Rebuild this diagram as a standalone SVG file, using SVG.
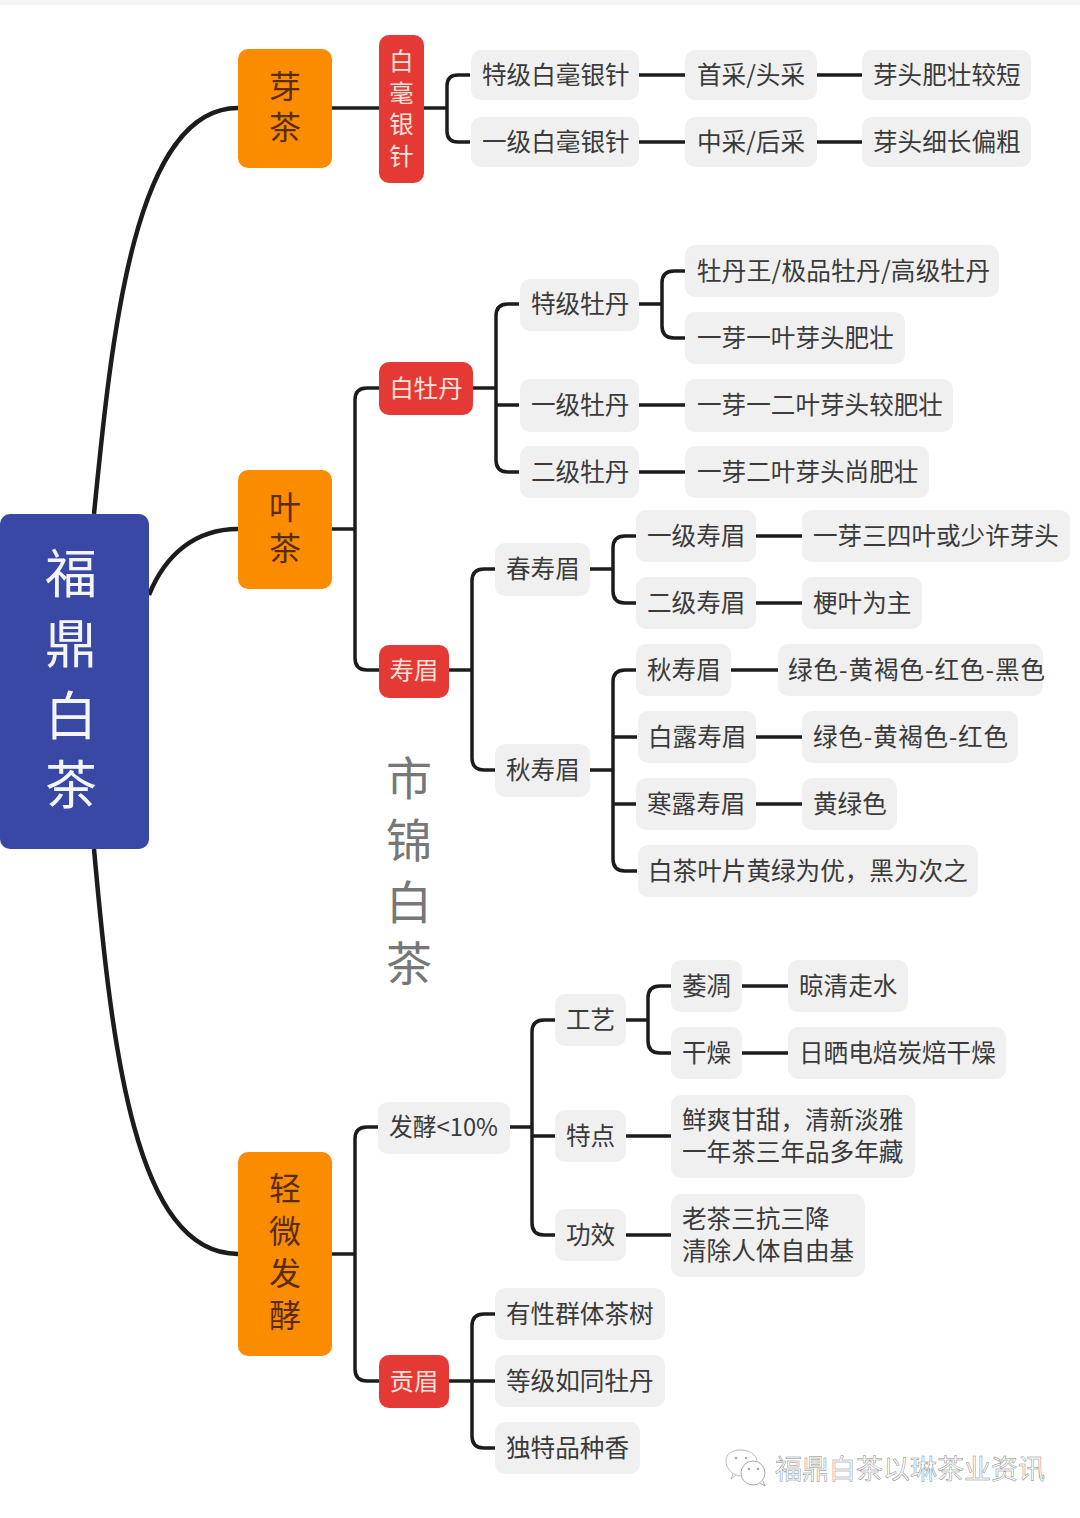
<svg xmlns="http://www.w3.org/2000/svg" width="1080" height="1518" viewBox="0 0 1080 1518">
<style>
text{font-family:"Noto Sans CJK SC","Noto Sans",sans-serif}
.g rect{fill:#f0f0f0}
.g text{font-size:24.6px;fill:#3a3a3a}
.o rect{fill:#fb8c00}
.o text{font-size:32px;fill:#5a2c00;text-anchor:middle}
.r rect{fill:#e53935}
.r text{font-size:24.4px;fill:#fde3dc;text-anchor:middle}
.c path{fill:none;stroke:#1c1c1c;stroke-width:3.500}
.c .m{stroke-width:4.500}
</style>
<rect x="0" y="0" width="1080" height="5" fill="#f6f6f6"/>
<g class="c" id="connectors">
<path class="m" d="M94,514C112,330 135,108 238,108"/>
<path class="m" d="M149,595C165,555 195,529 238,529"/>
<path class="m" d="M94,849C112,1050 135,1254 238,1254"/>
<path d="M332,108H379M424,108H447M470,75H458Q447,75 447,86V131Q447,142 458,142H470"/>
<path d="M639,75H685M817,75H862M639,142H685M817,142H862"/>
<path d="M332,529H355M379,388H367Q355,388 355,400V658Q355,670 367,670H379"/>
<path d="M473,388H496M519,304H508Q496,304 496,316V460Q496,472 508,472H519M496,405H519"/>
<path d="M639,304H662M685,271H674Q662,271 662,283V326Q662,338 674,338H685"/>
<path d="M639,405H685M639,472H685"/>
<path d="M449,670H472M495,569H484Q472,569 472,581V758Q472,770 484,770H495"/>
<path d="M590,569H613M636,536H625Q613,536 613,548V591Q613,603 625,603H636"/>
<path d="M756,536H802M756,603H802"/>
<path d="M590,770H613M636,670H625Q613,670 613,682V859Q613,871 625,871H637M613,737H637M613,804H636"/>
<path d="M731,670H778M756,737H802M756,804H802"/>
<path d="M332,1254H355M378,1127H367Q355,1127 355,1139V1369Q355,1381 367,1381H379"/>
<path d="M510,1127H532M555,1020H544Q532,1020 532,1032V1223Q532,1235 544,1235H555M532,1136H555"/>
<path d="M626,1020H648M671,986H660Q648,986 648,998V1041Q648,1053 660,1053H671"/>
<path d="M742,986H788M742,1053H788M626,1136H671M626,1235H671"/>
<path d="M449,1381H472M495,1314H484Q472,1314 472,1326V1436Q472,1448 484,1448H495M472,1381H495"/>
</g>
<g id="root"><rect x="0" y="514" width="149" height="335" rx="10" fill="#3848a4"/><text font-size="52" fill="#f4f5fb" text-anchor="middle"><tspan x="71" y="593">福</tspan><tspan x="71" y="663">鼎</tspan><tspan x="71" y="735">白</tspan><tspan x="71" y="804">茶</tspan></text></g>
<g id="n-yacha" class="o"><rect x="238" y="49" width="94" height="119" rx="10"/><text><tspan x="285" y="98">芽</tspan><tspan x="285" y="139">茶</tspan></text></g>
<g id="n-yecha" class="o"><rect x="238" y="470" width="94" height="119" rx="10"/><text><tspan x="285" y="519">叶</tspan><tspan x="285" y="560">茶</tspan></text></g>
<g id="n-qingwei" class="o"><rect x="238" y="1152" width="94" height="204" rx="10"/><text><tspan x="285" y="1200">轻</tspan><tspan x="285" y="1243">微</tspan><tspan x="285" y="1285">发</tspan><tspan x="285" y="1327">酵</tspan></text></g>
<g id="n-baihao" class="r"><rect x="379" y="35" width="45" height="148" rx="10"/><text><tspan x="401.500" y="70">白</tspan><tspan x="401.500" y="102">毫</tspan><tspan x="401.500" y="133">银</tspan><tspan x="401.500" y="165">针</tspan></text></g>
<g id="n-baimudan" class="r"><rect x="379" y="362" width="94" height="53" rx="10"/><text x="426" y="397">白牡丹</text></g>
<g id="n-shoumei" class="r"><rect x="379" y="645" width="70" height="53" rx="10"/><text x="414" y="679">寿眉</text></g>
<g id="n-gongmei" class="r"><rect x="379" y="1355" width="70" height="53" rx="10"/><text x="414" y="1390">贡眉</text></g>
<g id="n1" class="g"><rect x="471" y="50" width="168" height="50" rx="10"/><text x="482" y="84">特级白毫银针</text></g>
<g id="n2" class="g"><rect x="685" y="50" width="132" height="50" rx="10"/><text x="697" y="84">首采/头采</text></g>
<g id="n3" class="g"><rect x="862" y="50" width="169" height="50" rx="10"/><text x="873" y="84">芽头肥壮较短</text></g>
<g id="n4" class="g"><rect x="471" y="117" width="168" height="50" rx="10"/><text x="482" y="151">一级白毫银针</text></g>
<g id="n5" class="g"><rect x="685" y="117" width="132" height="50" rx="10"/><text x="697" y="151">中采/后采</text></g>
<g id="n6" class="g"><rect x="862" y="117" width="169" height="50" rx="10"/><text x="873" y="151">芽头细长偏粗</text></g>
<g id="n7" class="g"><rect x="520" y="279" width="119" height="52" rx="10"/><text x="531" y="313">特级牡丹</text></g>
<g id="n8" class="g"><rect x="685" y="245" width="314" height="52" rx="10"/><text x="697" y="280" textLength="293" lengthAdjust="spacing">牡丹王/极品牡丹/高级牡丹</text></g>
<g id="n9" class="g"><rect x="685" y="312" width="220" height="52" rx="10"/><text x="697" y="347">一芽一叶芽头肥壮</text></g>
<g id="n10" class="g"><rect x="520" y="379" width="119" height="53" rx="10"/><text x="531" y="414">一级牡丹</text></g>
<g id="n11" class="g"><rect x="685" y="379" width="268" height="53" rx="10"/><text x="697" y="414">一芽一二叶芽头较肥壮</text></g>
<g id="n12" class="g"><rect x="520" y="446" width="119" height="52" rx="10"/><text x="531" y="481">二级牡丹</text></g>
<g id="n13" class="g"><rect x="685" y="446" width="244" height="52" rx="10"/><text x="697" y="481">一芽二叶芽头尚肥壮</text></g>
<g id="n14" class="g"><rect x="495" y="543" width="95" height="53" rx="10"/><text x="506" y="578">春寿眉</text></g>
<g id="n15" class="g"><rect x="636" y="510" width="120" height="52" rx="10"/><text x="647" y="545">一级寿眉</text></g>
<g id="n16" class="g"><rect x="802" y="510" width="268" height="52" rx="10"/><text x="813" y="545">一芽三四叶或少许芽头</text></g>
<g id="n17" class="g"><rect x="636" y="577" width="120" height="52" rx="10"/><text x="647" y="612">二级寿眉</text></g>
<g id="n18" class="g"><rect x="802" y="577" width="120" height="52" rx="10"/><text x="813" y="612">梗叶为主</text></g>
<g id="n19" class="g"><rect x="495" y="744" width="95" height="53" rx="10"/><text x="506" y="779">秋寿眉</text></g>
<g id="n20" class="g"><rect x="636" y="644" width="95" height="52" rx="10"/><text x="647" y="679">秋寿眉</text></g>
<g id="n21" class="g"><rect x="778" y="644" width="265" height="52" rx="10"/><text x="788" y="679" textLength="257" lengthAdjust="spacing">绿色-黄褐色-红色-黑色</text></g>
<g id="n22" class="g"><rect x="638" y="711" width="118" height="52" rx="10"/><text x="648" y="746">白露寿眉</text></g>
<g id="n23" class="g"><rect x="802" y="711" width="216" height="52" rx="10"/><text x="813" y="746" textLength="195" lengthAdjust="spacing">绿色-黄褐色-红色</text></g>
<g id="n24" class="g"><rect x="636" y="778" width="120" height="52" rx="10"/><text x="647" y="813">寒露寿眉</text></g>
<g id="n25" class="g"><rect x="802" y="778" width="95" height="52" rx="10"/><text x="813" y="813">黄绿色</text></g>
<g id="n26" class="g"><rect x="638" y="845" width="340" height="52" rx="10"/><text x="648" y="880">白茶叶片黄绿为优，黑为次之</text></g>
<g id="n27" class="g"><rect x="378" y="1102" width="132" height="52" rx="10"/><text x="389" y="1136" textLength="109" lengthAdjust="spacingAndGlyphs">发酵&lt;10%</text></g>
<g id="n28" class="g"><rect x="555" y="994" width="71" height="52" rx="10"/><text x="566" y="1029">工艺</text></g>
<g id="n29" class="g"><rect x="671" y="960" width="71" height="52" rx="10"/><text x="682" y="995">萎凋</text></g>
<g id="n30" class="g"><rect x="788" y="960" width="120" height="52" rx="10"/><text x="799" y="995">晾清走水</text></g>
<g id="n31" class="g"><rect x="671" y="1027" width="71" height="52" rx="10"/><text x="682" y="1062">干燥</text></g>
<g id="n32" class="g"><rect x="788" y="1027" width="218" height="52" rx="10"/><text x="799" y="1062">日晒电焙炭焙干燥</text></g>
<g id="n33" class="g"><rect x="555" y="1110" width="71" height="52" rx="10"/><text x="566" y="1145">特点</text></g>
<g id="n34" class="g"><rect x="671" y="1095" width="244" height="83" rx="10"/><text><tspan x="682" y="1129">鲜爽甘甜，清新淡雅</tspan><tspan x="682" y="1161">一年茶三年品多年藏</tspan></text></g>
<g id="n35" class="g"><rect x="555" y="1209" width="71" height="52" rx="10"/><text x="566" y="1244">功效</text></g>
<g id="n36" class="g"><rect x="671" y="1194" width="194" height="83" rx="10"/><text><tspan x="682" y="1228">老茶三抗三降</tspan><tspan x="682" y="1260">清除人体自由基</tspan></text></g>
<g id="n37" class="g"><rect x="495" y="1288" width="170" height="52" rx="10"/><text x="506" y="1323">有性群体茶树</text></g>
<g id="n38" class="g"><rect x="495" y="1355" width="170" height="52" rx="10"/><text x="506" y="1390">等级如同牡丹</text></g>
<g id="n39" class="g"><rect x="495" y="1422" width="145" height="52" rx="10"/><text x="506" y="1457">独特品种香</text></g>
<text id="mark" font-size="46" fill="#777" text-anchor="middle"><tspan x="409" y="795">市</tspan><tspan x="409" y="857">锦</tspan><tspan x="409" y="919">白</tspan><tspan x="409" y="980">茶</tspan></text>
<g id="footer">
<path d="M742,1476C733,1476 726,1469 726,1461C726,1453 733,1450 741,1450C749,1450 756,1454 757,1461" fill="none" stroke="#bbb" stroke-width="1"/>
<path d="M736,1475L731,1479L733,1474" fill="none" stroke="#bbb" stroke-width="1"/>
<circle cx="753" cy="1473" r="12" fill="#fff" stroke="#aaa" stroke-width="1"/>
<path d="M760,1483L765,1486L763,1481" fill="#fff" stroke="#aaa" stroke-width="1"/>
<circle cx="736" cy="1458" r="1.300" fill="#aaa"/><circle cx="746" cy="1458" r="1.300" fill="#aaa"/><circle cx="749" cy="1469" r="1.300" fill="#aaa"/><circle cx="758" cy="1469" r="1.300" fill="#aaa"/>
<text x="775" y="1479" font-size="27" fill="#fff" stroke="#8a8a8a" stroke-width="0.500">福鼎白茶以琳茶业资讯</text>
</g>
</svg>
